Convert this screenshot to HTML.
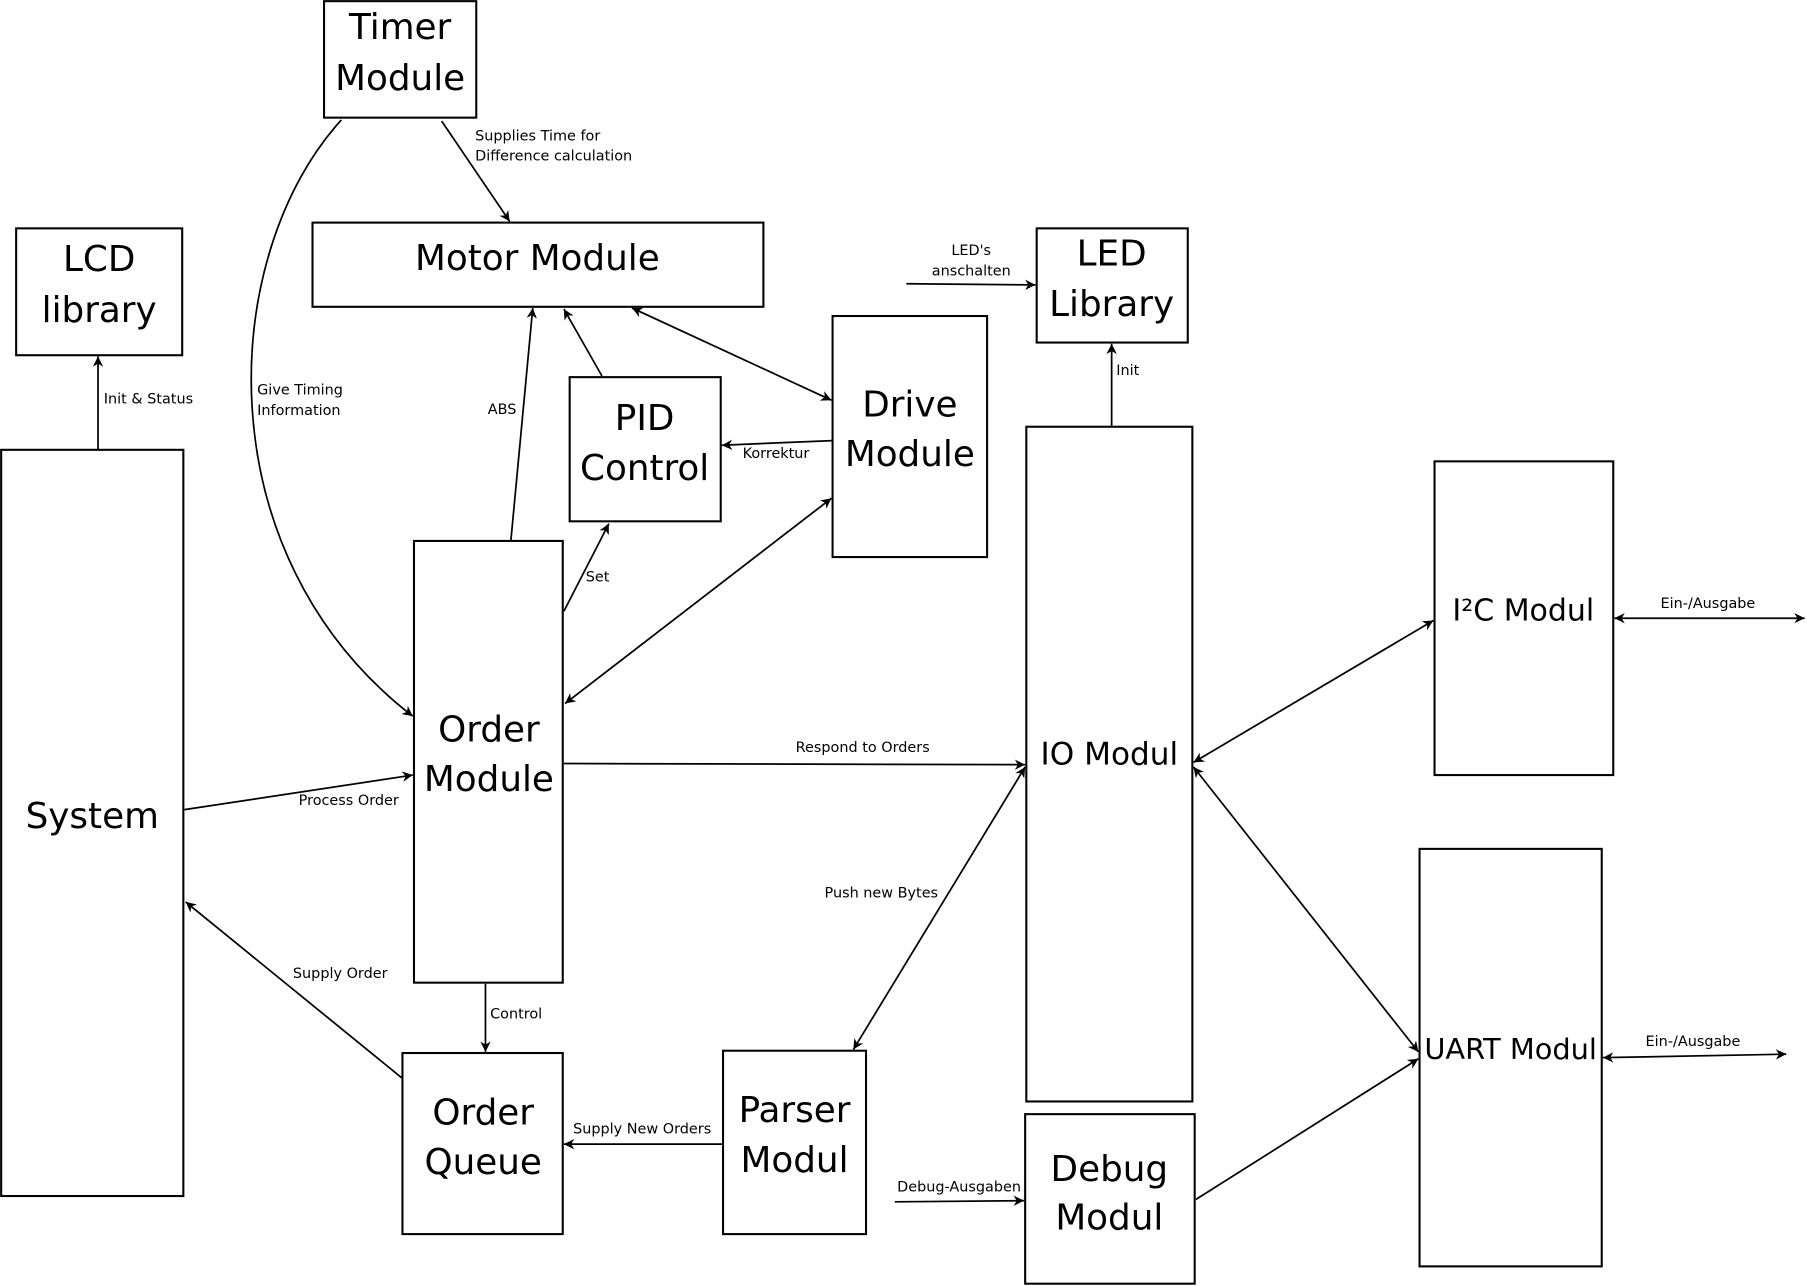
<!DOCTYPE html>
<html><head><meta charset="utf-8"><style>
html,body{margin:0;padding:0;background:#fff}
svg{display:block}
text{font-family:"DejaVu Sans","Liberation Sans",sans-serif;fill:#000}
.b{font-size:31px;text-anchor:middle}
.s{font-size:12.5px}
rect{fill:#fff;stroke:#000;stroke-width:1.8}
line,path{stroke:#000;stroke-width:1.5;fill:none}
</style></head><body>
<svg width="1807" height="1286" viewBox="0 0 1567 1115" preserveAspectRatio="none" xmlns="http://www.w3.org/2000/svg">
<defs>
<marker id="e" viewBox="0 0 10 10" refX="10" refY="5" markerWidth="9" markerHeight="9" orient="auto" markerUnits="userSpaceOnUse"><path d="M0,0 L10,5 L0,10 L3,5 Z" style="fill:#000;stroke:none"/></marker>
<marker id="st" viewBox="0 0 10 10" refX="0" refY="5" markerWidth="9" markerHeight="9" orient="auto" markerUnits="userSpaceOnUse"><path d="M10,0 L0,5 L10,10 L7,5 Z" style="fill:#000;stroke:none"/></marker>
</defs>
<rect x="281" y="1" width="132" height="101"/>
<text class="b" x="347" y="34">Timer</text><text class="b" x="347" y="78">Module</text>
<rect x="14" y="198" width="144" height="110"/>
<text class="b" x="86" y="235">LCD</text><text class="b" x="86" y="279">library</text>
<rect x="271" y="193" width="391" height="73"/>
<text class="b" x="466" y="234">Motor Module</text>
<rect x="899" y="198" width="131" height="99"/>
<text class="b" x="964" y="230">LED</text><text class="b" x="964" y="274">Library</text>
<rect x="494" y="327" width="131" height="125"/>
<text class="b" x="559" y="373">PID</text><text class="b" x="559" y="416">Control</text>
<rect x="722" y="274" width="134" height="209"/>
<text class="b" x="789" y="361">Drive</text><text class="b" x="789" y="404">Module</text>
<rect x="1" y="390" width="158" height="647"/>
<text class="b" x="80" y="718">System</text>
<rect x="359" y="469" width="129" height="383"/>
<text class="b" x="424" y="643">Order</text><text class="b" x="424" y="686">Module</text>
<rect x="890" y="370" width="144" height="585"/>
<text class="b" x="962" y="663" style="font-size:27px">IO Modul</text>
<rect x="1244" y="400" width="155" height="272"/>
<text class="b" x="1321" y="538" style="font-size:26px">I²C Modul</text>
<rect x="1231" y="736" width="158" height="362"/>
<text class="b" x="1310" y="918" style="font-size:25px">UART Modul</text>
<rect x="349" y="913" width="139" height="157"/>
<text class="b" x="419" y="975">Order</text><text class="b" x="419" y="1018">Queue</text>
<rect x="627" y="911" width="124" height="159"/>
<text class="b" x="689" y="973">Parser</text><text class="b" x="689" y="1016">Modul</text>
<rect x="889" y="966" width="147" height="147"/>
<text class="b" x="962" y="1024">Debug</text><text class="b" x="962" y="1066">Modul</text>

<line x1="383" y1="105" x2="442" y2="192" marker-end="url(#e)"/>
<text class="s" x="412" y="122">Supplies Time for</text><text class="s" x="412" y="139">Difference calculation</text>
<path d="M296,104 C190,220 175,480 358,621" marker-end="url(#e)"/>
<text class="s" x="223" y="342">Give Timing</text><text class="s" x="223" y="360">Information</text>
<line x1="85" y1="390" x2="85" y2="309" marker-end="url(#e)"/>
<text class="s" x="90" y="350">Init &amp; Status</text>
<line x1="443" y1="469" x2="462" y2="267" marker-end="url(#e)"/>
<text class="s" x="423" y="359">ABS</text>
<line x1="522" y1="326" x2="489" y2="268" marker-end="url(#e)"/>
<line x1="548" y1="267" x2="721" y2="347" marker-start="url(#st)" marker-end="url(#e)"/>
<line x1="722" y1="382" x2="626" y2="386" marker-end="url(#e)"/>
<text class="s" x="644" y="397">Korrektur</text>
<line x1="489" y1="530" x2="528" y2="454" marker-end="url(#e)"/>
<text class="s" x="508" y="504">Set</text>
<line x1="490" y1="610" x2="721" y2="432" marker-start="url(#st)" marker-end="url(#e)"/>
<line x1="786" y1="246" x2="898" y2="247" marker-end="url(#e)"/>
<text class="s" x="825" y="221">LED's</text><text class="s" x="808" y="239">anschalten</text>
<line x1="964" y1="370" x2="964" y2="298" marker-end="url(#e)"/>
<text class="s" x="968" y="325">Init</text>
<line x1="160" y1="702" x2="358" y2="672" marker-end="url(#e)"/>
<text class="s" x="259" y="698">Process Order</text>
<line x1="489" y1="662" x2="889" y2="663" marker-end="url(#e)"/>
<text class="s" x="690" y="652">Respond to Orders</text>
<line x1="1035" y1="661" x2="1243" y2="538" marker-start="url(#st)" marker-end="url(#e)"/>
<line x1="1400" y1="536" x2="1565" y2="536" marker-start="url(#st)" marker-end="url(#e)"/>
<text class="s" x="1440" y="527">Ein-/Ausgabe</text>
<line x1="1035" y1="665" x2="1230" y2="912" marker-start="url(#st)" marker-end="url(#e)"/>
<line x1="1390" y1="917" x2="1549" y2="914" marker-start="url(#st)" marker-end="url(#e)"/>
<text class="s" x="1427" y="907">Ein-/Ausgabe</text>
<line x1="889" y1="665" x2="740" y2="910" marker-start="url(#st)" marker-end="url(#e)"/>
<text class="s" x="715" y="778">Push new Bytes</text>
<line x1="421" y1="853" x2="421" y2="912" marker-end="url(#e)"/>
<text class="s" x="425" y="883">Control</text>
<line x1="349" y1="935" x2="161" y2="782" marker-end="url(#e)"/>
<text class="s" x="254" y="848">Supply Order</text>
<line x1="627" y1="992" x2="489" y2="992" marker-end="url(#e)"/>
<text class="s" x="497" y="983">Supply New Orders</text>
<line x1="776" y1="1042" x2="888" y2="1041" marker-end="url(#e)"/>
<text class="s" x="778" y="1033">Debug-Ausgaben</text>
<line x1="1037" y1="1040" x2="1230" y2="918" marker-end="url(#e)"/>
</svg>
</body></html>
